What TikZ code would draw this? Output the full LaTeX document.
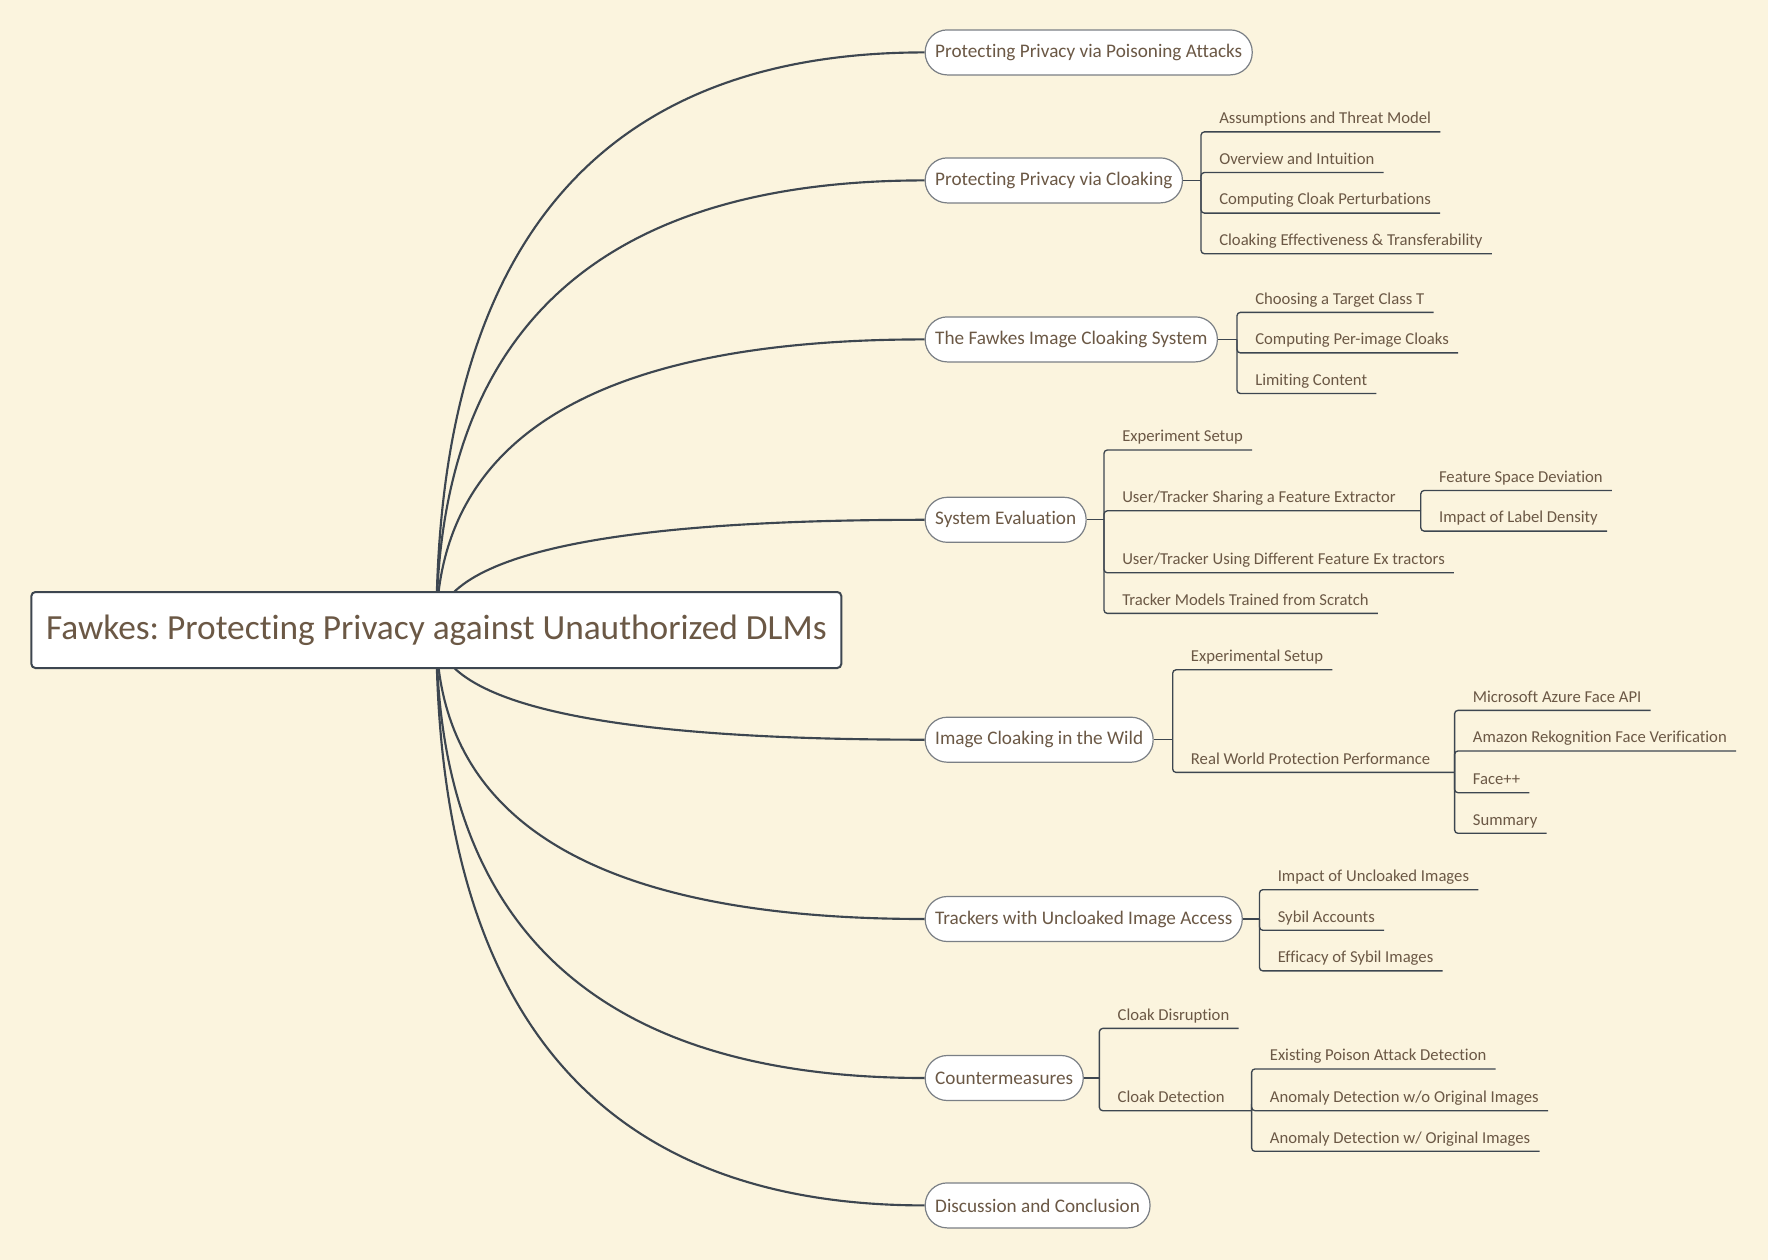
\documentclass[tikz,border=0pt]{standalone}
\usepackage{fontspec}
\setmainfont{Carlito}[Ligatures=NoCommon]
\usetikzlibrary{calc}

\definecolor{bgcream}{HTML}{FBF4DE}
\definecolor{txtbrown}{HTML}{6B5845}
\definecolor{linegray}{HTML}{3D4650}
\definecolor{boxgray}{HTML}{7A7F85}

\pgfdeclarelayer{bg}
\pgfsetlayers{bg,main}

\tikzset{
  root/.style={draw=linegray, line width=1.5pt, fill=white, rounded corners=3pt,
    inner xsep=11pt, minimum height=57pt, text=txtbrown,
    font=\fontsize{26.5}{30}\selectfont},
  topic/.style={draw=boxgray, line width=0.9pt, fill=white, rounded corners=16.5pt,
    inner xsep=7.5pt, minimum height=33.75pt, text=txtbrown,
    font=\fontsize{14.4}{17}\selectfont},
  sub/.style={anchor=south west, inner xsep=6.75pt, inner ysep=0pt, text depth=6pt,
    text=txtbrown, font=\fontsize{12.5}{15}\selectfont},
  curve/.style={linegray, line width=1.6pt},
  link/.style={linegray, line width=1pt, rounded corners=2.5pt},
}

\begin{document}
\frenchspacing
\begin{tikzpicture}[x=0.75pt, y=-0.75pt]
    \useasboundingbox (0,0) rectangle (1768,1260);

    % 中心主题
    \node[root, anchor=west] (root) at (30.4,630) {Fawkes: Protecting Privacy against Unauthorized DLMs};

    % 一级分支
    \node[topic, anchor=west] (t1) at (924.6,52.4) {Protecting Privacy via Poisoning Attacks};
    \node[topic, anchor=west] (t2) at (924.6,180.4) {Protecting Privacy via Cloaking};
    \node[topic, anchor=west] (t3) at (924.6,339.4) {The Fawkes Image Cloaking System};
    \node[topic, anchor=west] (t4) at (924.6,519.8) {System Evaluation};
    \node[topic, anchor=west] (t5) at (924.6,739.7) {Image Cloaking in the Wild};
    \node[topic, anchor=west] (t6) at (924.6,919) {Trackers with Uncloaked Image Access};
    \node[topic, anchor=west] (t7) at (924.6,1078) {Countermeasures};
    \node[topic, anchor=west] (t8) at (924.6,1205.4) {Discussion and Conclusion};

    % 分叉点
    \coordinate (j2) at (1201,180.4);
    \coordinate (j3) at (1237,339.4);
    \coordinate (j4) at (1104,519.8);
    \coordinate (j42) at (1420.8,510.8);
    \coordinate (j5) at (1172.7,739.7);
    \coordinate (j52) at (1454.6,772.4);
    \coordinate (j6) at (1259.5,919);
    \coordinate (j7) at (1099.4,1078);
    \coordinate (j72) at (1251.6,1110.7);

    % 二级、三级分支
    \node[sub] (c21) at (1210,131.9) {Assumptions and Threat Model};
    \node[sub] (c22) at (1210,172.5) {Overview and Intuition};
    \node[sub] (c23) at (1210,213.1) {Computing Cloak Perturbations};
    \node[sub] (c24) at (1210,253.7) {Cloaking Effectiveness \& Transferability};

    \node[sub] (c31) at (1246,312.4) {Choosing a Target Class T};
    \node[sub] (c32) at (1246,352.9) {Computing Per-image Cloaks};
    \node[sub] (c33) at (1246,393.5) {Limiting Content};

    \node[sub] (c41) at (1113,450) {Experiment Setup};
    \node[sub] (c42) at (1113,510.8) {User/Tracker Sharing a Feature Extractor};
    \node[sub] (c43) at (1113,572.8) {User/Tracker Using Different Feature Ex tractors};
    \node[sub] (c44) at (1113,613.4) {Tracker Models Trained from Scratch};
    \node[sub] (c421) at (1429.8,490.5) {Feature Space Deviation};
    \node[sub] (c422) at (1429.8,531.1) {Impact of Label Density};

    \node[sub] (c51) at (1181.7,669.8) {Experimental Setup};
    \node[sub] (c52) at (1181.7,772.4) {Real World Protection Performance};
    \node[sub] (c521) at (1463.6,710.4) {Microsoft Azure Face API};
    \node[sub] (c522) at (1463.6,751) {Amazon Rekognition Face Verification};
    \node[sub] (c523) at (1463.6,792.7) {Face++};
    \node[sub] (c524) at (1463.6,833.3) {Summary};

    \node[sub] (c61) at (1268.5,889.7) {Impact of Uncloaked Images};
    \node[sub] (c62) at (1268.5,930.3) {Sybil Accounts};
    \node[sub] (c63) at (1268.5,970.9) {Efficacy of Sybil Images};

    \node[sub] (c71) at (1108.4,1028.4) {Cloak Disruption};
    \node[sub] (c72) at (1108.4,1110.7) {Cloak Detection};
    \node[sub] (c721) at (1260.6,1069) {Existing Poison Attack Detection};
    \node[sub] (c722) at (1260.6,1110.7) {Anomaly Detection w/o Original Images};
    \node[sub] (c723) at (1260.6,1151.3) {Anomaly Detection w/ Original Images};

    % 背景和主曲线
    \begin{pgfonlayer}{bg}
        \fill[bgcream] (0,0) rectangle (1768,1260);
        \foreach \t in {t1,t2,t3,t4,t5,t6,t7,t8}
            \draw[curve] (root.center) .. controls ($(root.center)!0.667!(root.center |- \t.west)$)
                and ($(\t.west)!0.667!(root.center |- \t.west)$) .. (\t.west);
    \end{pgfonlayer}

    % 连线
    \draw[link] (t2.east) -- (j2);
    \foreach \c in {c21,c22,c23,c24}
        \draw[link] (j2) |- (\c.south east);

    \draw[link] (t3.east) -- (j3);
    \foreach \c in {c31,c32,c33}
        \draw[link] (j3) |- (\c.south east);

    \draw[link] (t4.east) -- (j4);
    \foreach \c in {c41,c43,c44}
        \draw[link] (j4) |- (\c.south east);
    \draw[link] (j4) |- (j42);
    \foreach \c in {c421,c422}
        \draw[link] (j42) |- (\c.south east);

    \draw[link] (t5.east) -- (j5);
    \draw[link] (j5) |- (c51.south east);
    \draw[link] (j5) |- (j52);
    \foreach \c in {c521,c522,c523,c524}
        \draw[link] (j52) |- (\c.south east);

    \draw[link] (t6.east) -- (j6);
    \foreach \c in {c61,c62,c63}
        \draw[link] (j6) |- (\c.south east);

    \draw[link] (t7.east) -- (j7);
    \draw[link] (j7) |- (c71.south east);
    \draw[link] (j7) |- (j72);
    \foreach \c in {c721,c722,c723}
        \draw[link] (j72) |- (\c.south east);

\end{tikzpicture}
\end{document}
